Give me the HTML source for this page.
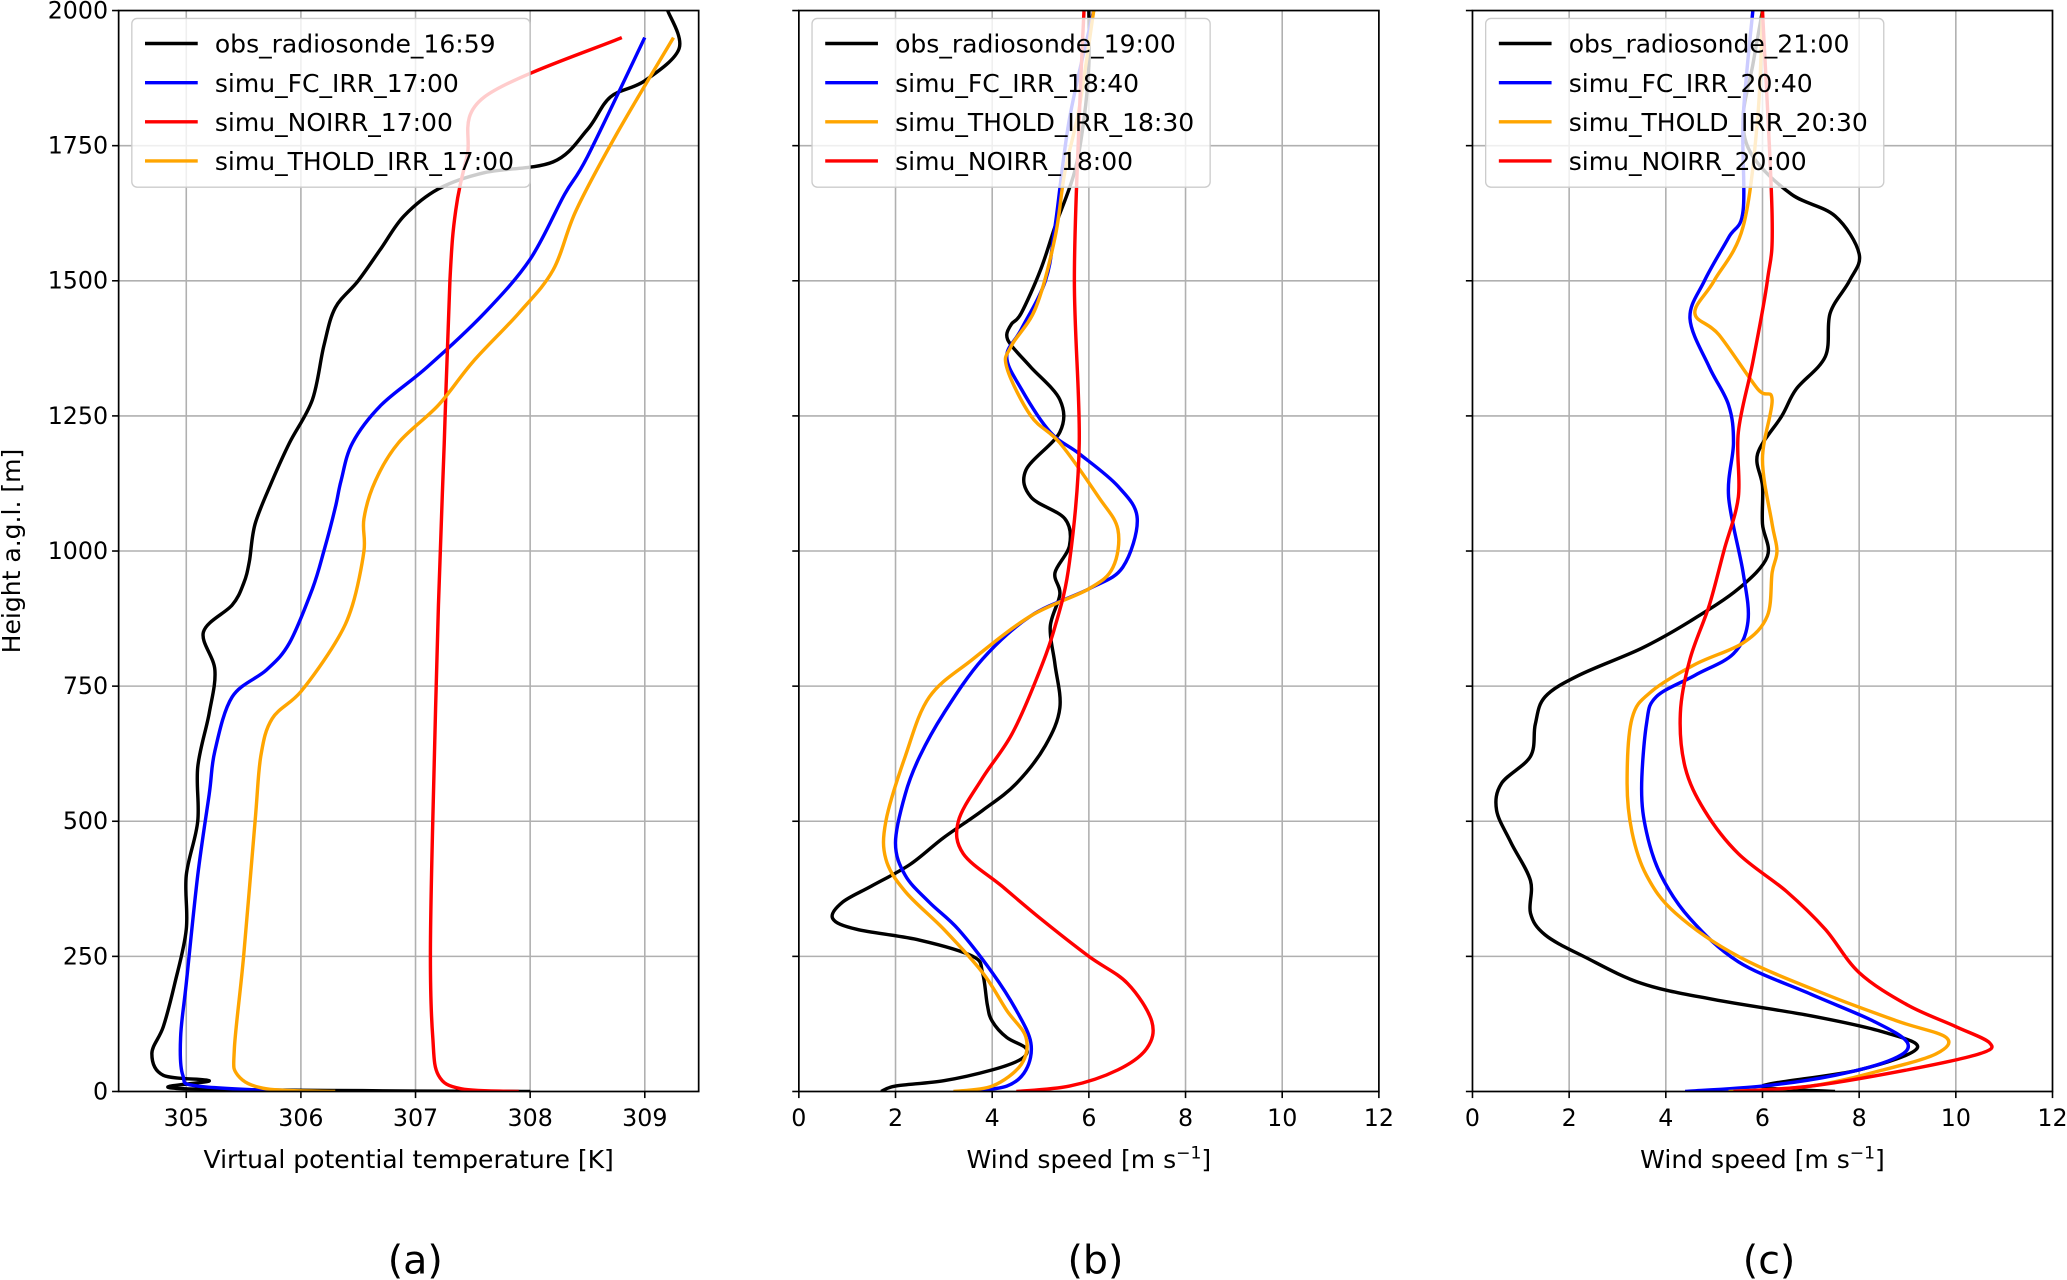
<!DOCTYPE html>
<html><head><meta charset="utf-8"><style>
html,body{margin:0;padding:0;background:#fff;}
svg{display:block;font-family:"DejaVu Sans","Liberation Sans",sans-serif;}
</style></head><body>
<svg id="fig" width="2067" height="1280" viewBox="0 0 1568 971" preserveAspectRatio="none" xmlns="http://www.w3.org/2000/svg"></svg>
<script>
// ---- data: [value, height] pairs ----
const heightTicks=[0,250,500,750,1000,1250,1500,1750,2000];
const tempTicks=[305,306,307,308,309];
const windTicks=[0,2,4,6,8,10,12];
const aObs=[[308,0],[305.0,5],[305.2,20],[304.8,30],[304.7,70],[304.8,120],[304.9,200],[305.0,300],[305.0,400],[305.1,500],[305.1,600],[305.2,700],[305.25,780],[305.15,850],[305.4,900],[305.5,940],[305.55,980],[305.6,1050],[305.75,1130],[305.9,1200],[306.1,1280],[306.2,1380],[306.3,1450],[306.5,1500],[306.7,1560],[306.9,1620],[307.2,1670],[307.6,1700],[308.2,1720],[308.5,1780],[308.7,1840],[309.0,1870],[309.3,1930],[309.2,2000]];
const aFC=[[305.9,0],[305.1,10],[304.97,30],[304.95,100],[305.0,200],[305.1,400],[305.2,550],[305.25,630],[305.4,730],[305.7,780],[305.9,830],[306.1,930],[306.2,1000],[306.3,1080],[306.35,1130],[306.45,1200],[306.7,1270],[307.1,1340],[307.6,1440],[308.0,1540],[308.3,1660],[308.5,1730],[309.0,1950]];
const aNO=[[307.9,0],[307.4,5],[307.2,30],[307.15,100],[307.13,250],[307.15,500],[307.2,900],[307.25,1200],[307.3,1500],[307.35,1630],[307.45,1730],[307.6,1840],[308.8,1950]];
const aTH=[[306.3,0],[305.7,5],[305.45,30],[305.42,80],[305.5,250],[305.6,500],[305.65,620],[305.75,690],[306.0,740],[306.3,830],[306.45,900],[306.55,1000],[306.55,1060],[306.65,1130],[306.85,1200],[307.2,1270],[307.5,1350],[307.9,1440],[308.2,1520],[308.4,1630],[308.75,1770],[309.25,1950]];
const bObs=[[1.7,0],[2,10],[3,20],[4,40],[4.6,60],[4.7,80],[4.3,100],[4.0,130],[3.9,160],[3.8,220],[3.6,250],[2.5,280],[1.2,300],[0.7,320],[0.9,350],[1.5,380],[2.3,420],[3.0,470],[3.8,520],[4.5,570],[5.1,640],[5.4,710],[5.3,790],[5.2,860],[5.4,920],[5.3,960],[5.6,1010],[5.5,1060],[4.8,1100],[4.7,1150],[5.4,1220],[5.4,1280],[4.8,1340],[4.4,1380],[4.3,1400],[4.4,1420],[4.6,1440],[5.0,1520],[5.3,1600],[5.7,1700],[5.9,1800],[6.0,1900],[6.0,2000]];
const bFC=[[3.5,0],[4.3,10],[4.7,40],[4.8,90],[4.5,150],[4.0,220],[3.3,300],[2.7,350],[2.2,400],[2.0,460],[2.2,550],[2.5,620],[3.0,700],[3.8,800],[4.8,880],[6.0,930],[6.7,970],[7.0,1060],[6.6,1120],[5.8,1180],[5.2,1220],[4.6,1300],[4.3,1360],[4.6,1410],[5.1,1500],[5.3,1600],[5.6,1800],[6.1,2000]];
const bTH=[[3.2,0],[4.0,10],[4.6,50],[4.7,100],[4.3,150],[3.8,220],[3.0,300],[2.2,370],[1.8,430],[1.8,500],[2.2,620],[2.7,730],[3.6,800],[4.8,880],[6.0,930],[6.5,970],[6.6,1040],[6.2,1100],[5.4,1200],[4.8,1250],[4.3,1340],[4.4,1380],[4.9,1450],[5.3,1580],[5.5,1700],[5.8,1820],[6.1,2000]];
const bNO=[[4.5,0],[5.6,10],[6.6,40],[7.2,80],[7.3,130],[6.8,200],[6.0,250],[5.0,320],[4.2,380],[3.4,440],[3.3,500],[3.8,580],[4.4,660],[4.9,760],[5.3,860],[5.6,980],[5.8,1200],[5.7,1500],[5.8,1800],[5.9,2000]];
const cObs=[[7.5,0],[6,10],[8,40],[9.2,80],[8.5,110],[7.0,140],[5.0,170],[3.5,200],[2.3,250],[1.5,290],[1.2,330],[1.2,390],[0.8,460],[0.5,520],[0.6,570],[1.2,620],[1.3,680],[1.5,730],[2.2,770],[3.5,820],[4.5,870],[5.5,930],[6.1,990],[6.0,1050],[6.0,1120],[5.9,1180],[6.4,1250],[6.7,1300],[7.3,1360],[7.4,1440],[7.8,1500],[8.0,1550],[7.5,1620],[6.6,1660],[5.8,1730],[5.6,1800],[5.8,1900],[6.0,2000]];
const cFC=[[4.4,0],[6,10],[7.5,30],[8.7,60],[9.0,90],[8.3,130],[7.0,180],[5.5,240],[4.5,320],[3.9,400],[3.6,480],[3.5,560],[3.6,680],[3.8,730],[4.6,770],[5.4,810],[5.7,870],[5.6,960],[5.3,1100],[5.4,1200],[5.3,1270],[4.9,1340],[4.5,1430],[4.8,1500],[5.3,1580],[5.6,1630],[5.6,1800],[5.8,2000]];
const cTH=[[5.3,0],[7,10],[8.5,40],[9.6,70],[9.8,100],[8.8,130],[7.3,180],[5.5,250],[4.2,330],[3.6,400],[3.3,480],[3.2,570],[3.3,690],[3.7,740],[4.6,790],[5.6,830],[6.1,880],[6.2,960],[6.3,1000],[6.2,1050],[6.0,1170],[6.2,1280],[5.9,1300],[5.1,1400],[4.6,1440],[5.0,1500],[5.6,1600],[5.9,1800],[6.0,2000]];
const cNO=[[5.4,0],[7,10],[9,40],[10.5,70],[10.7,90],[10.0,120],[9.0,160],[8.0,220],[7.3,300],[6.5,370],[5.5,440],[4.8,520],[4.4,600],[4.3,700],[4.5,800],[4.9,900],[5.2,1000],[5.5,1100],[5.5,1220],[5.8,1350],[6.1,1500],[6.2,1620],[6.0,2000]];
const legA=["obs_radiosonde_16:59","simu_FC_IRR_17:00","simu_NOIRR_17:00","simu_THOLD_IRR_17:00"];
const legB=["obs_radiosonde_19:00","simu_FC_IRR_18:40","simu_THOLD_IRR_18:30","simu_NOIRR_18:00"];
const legC=["obs_radiosonde_21:00","simu_FC_IRR_20:40","simu_THOLD_IRR_20:30","simu_NOIRR_20:00"];

const NS="http://www.w3.org/2000/svg";
const svg=document.getElementById('fig');
function mk(tag,attrs,parent){const e=document.createElementNS(NS,tag);for(const k in attrs)e.setAttribute(k,attrs[k]);(parent||svg).appendChild(e);return e;}
const TOP=8,BOT=828;
function yS(h){return BOT-(h/2000)*(BOT-TOP);}
function smooth(pts){
  let d='M'+pts[0][0].toFixed(1)+','+pts[0][1].toFixed(1);
  for(let i=0;i<pts.length-1;i++){
    const p0=pts[i-1]||pts[i],p1=pts[i],p2=pts[i+1],p3=pts[i+2]||p2;
    const c1=[p1[0]+(p2[0]-p0[0])/6,p1[1]+(p2[1]-p0[1])/6];
    const c2=[p2[0]-(p3[0]-p1[0])/6,p2[1]-(p3[1]-p1[1])/6];
    d+='C'+c1.map(v=>v.toFixed(1))+' '+c2.map(v=>v.toFixed(1))+' '+p2.map(v=>v.toFixed(1));
  }
  return d;
}

function panel(id,L,R,xmin,xmax,xticks,gridX,yLabels,xlabel,tag,series,legend){
  const g=mk('g',{});
  
  
  const xS=v=>L+(v-xmin)/(xmax-xmin)*(R-L);
  gridX.forEach(v=>{const l=mk('line',{x1:xS(v),x2:xS(v),y1:TOP,y2:BOT,stroke:'#b0b0b0','stroke-width':1.2},g);});
  heightTicks.slice(1,-1).forEach(h=>{const l=mk('line',{x1:L,x2:R,y1:yS(h),y2:yS(h),stroke:'#b0b0b0','stroke-width':1.2},g);});
  const cl=mk('clipPath',{id:'clip'+id},g);mk('rect',{x:L,y:TOP,width:R-L,height:BOT-TOP},cl);
  series.forEach(s=>{
    const pts=s.data.map(p=>[xS(p[0]),yS(p[1])]);
    const p=mk('path',{d:smooth(pts),fill:'none',stroke:s.color,'stroke-width':2.6,'stroke-linejoin':'round','clip-path':'url(#clip'+id+')'},g);
    
    
  });
  const fr=mk('rect',{x:L,y:TOP,width:R-L,height:BOT-TOP,fill:'none',stroke:'#000','stroke-width':1.3},g);
  
  xticks.forEach(v=>{mk('line',{x1:xS(v),x2:xS(v),y1:BOT,y2:BOT+5,stroke:'#000','stroke-width':1.2},g);
    const t=mk('text',{x:xS(v),y:BOT+26,'font-size':18,'text-anchor':'middle'},g);t.textContent=v;
    });
  heightTicks.forEach(h=>{mk('line',{x1:L-5,x2:L,y1:yS(h),y2:yS(h),stroke:'#000','stroke-width':1.2},g);
    if(yLabels){const t=mk('text',{x:L-8,y:yS(h)+6,'font-size':18,'text-anchor':'end'},g);t.textContent=h;
      }});
  const xl=mk('text',{x:(L+R)/2,y:886,'font-size':19,'text-anchor':'middle'},g);
  xl.innerHTML=xlabel;
  
  const tg=mk('text',{x:(L+R)/2+5,y:966,'font-size':30,'text-anchor':'middle'},g);tg.textContent=tag;
  
  const lg=mk('g',{},g);
  
  mk('rect',{x:L+10,y:14,width:302,height:128,rx:4,fill:'rgba(255,255,255,0.8)',stroke:'#ccc','stroke-width':1},lg);
  legend.forEach((txt,i)=>{
    const y=33+i*29.7;
    const ln=mk('line',{x1:L+20,x2:L+60,y1:y,y2:y,stroke:series.find(s=>s.label===txt).color,'stroke-width':2.6},lg);
    
    const t=mk('text',{x:L+73,y:y+7,'font-size':19},lg);t.textContent=txt;
    
  });
}
panel('a',90,530,304.41,309.47,tempTicks,tempTicks,true,'Virtual potential temperature [K]','(a)',[
 {data:aObs,color:'#000',name:'obs-line',label:legA[0]},
 {data:aFC,color:'#0000ff',name:'fc-irr-line',label:legA[1]},
 {data:aNO,color:'#ff0000',name:'noirr-line',label:legA[2]},
 {data:aTH,color:'#ffa500',name:'thold-irr-line',label:legA[3]}],legA);
panel('b',606,1046,0,12,windTicks,[2,4,6,8,10],false,'Wind speed [m s<tspan dy="-7" font-size="13">−1</tspan><tspan dy="7">]</tspan>','(b)',[
 {data:bObs,color:'#000',name:'obs-line',label:legB[0]},
 {data:bFC,color:'#0000ff',name:'fc-irr-line',label:legB[1]},
 {data:bTH,color:'#ffa500',name:'thold-irr-line',label:legB[2]},
 {data:bNO,color:'#ff0000',name:'noirr-line',label:legB[3]}],legB);
panel('c',1117,1557,0,12,windTicks,[2,4,6,8,10],false,'Wind speed [m s<tspan dy="-7" font-size="13">−1</tspan><tspan dy="7">]</tspan>','(c)',[
 {data:cObs,color:'#000',name:'obs-line',label:legC[0]},
 {data:cFC,color:'#0000ff',name:'fc-irr-line',label:legC[1]},
 {data:cTH,color:'#ffa500',name:'thold-irr-line',label:legC[2]},
 {data:cNO,color:'#ff0000',name:'noirr-line',label:legC[3]}],legC);
const yt=mk('text',{x:0,y:0,'font-size':19,'text-anchor':'middle',transform:'translate(15,418) rotate(-90)'});
yt.textContent='Height a.g.l. [m]';


</script>
</body></html>
